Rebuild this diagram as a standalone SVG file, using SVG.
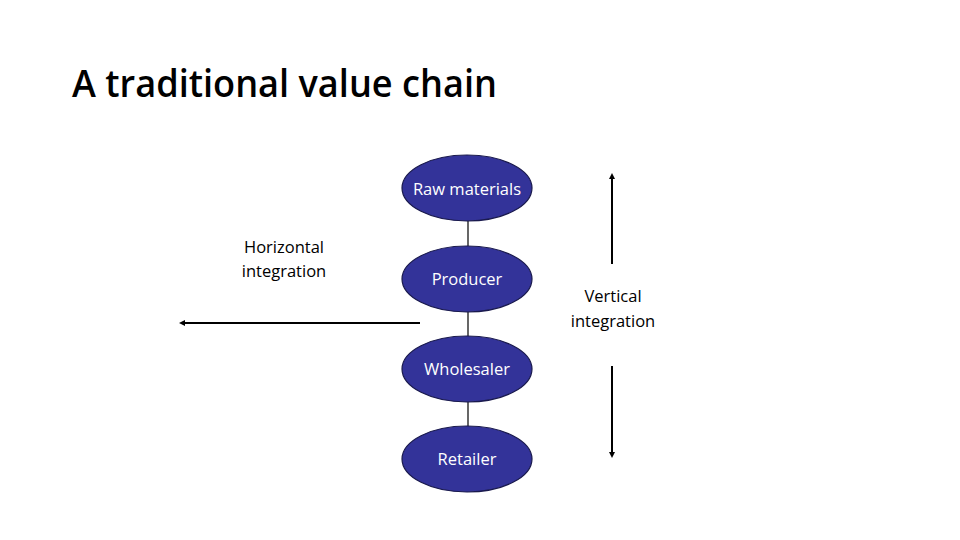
<svg xmlns="http://www.w3.org/2000/svg" width="960" height="540" viewBox="0 0 960 540">
<style>
.node ellipse{fill:#333399;stroke:#1a1a4d;stroke-width:1.2}
.node text{fill:#fff;font-family:"Open Sans","Liberation Sans",sans-serif;font-size:16.5px;text-anchor:middle}
.lbl{fill:#000;font-family:"Open Sans","Liberation Sans",sans-serif;font-size:16.5px;text-anchor:middle}
.conn line{stroke:#000;stroke-width:1.2}
.arr line{stroke:#000;stroke-width:2}
</style>
<defs>
<marker id="ah" viewBox="0 0 6 6" refX="3" refY="3" markerWidth="3" markerHeight="3" orient="auto"><path d="M0,0 L6,3 L0,6 Z" fill="#000"/></marker>
</defs>
<rect width="960" height="540" fill="#fff"/>
<text x="72" y="97" font-family="Open Sans,Liberation Sans,sans-serif" font-size="38" font-weight="600" textLength="425" lengthAdjust="spacingAndGlyphs" fill="#000">A traditional value chain</text>
<g class="conn">
<line x1="468" y1="221" x2="468" y2="246"/>
<line x1="468" y1="312" x2="468" y2="337"/>
<line x1="468" y1="402" x2="468" y2="427"/>
</g>
<g class="arr">
<line x1="420" y1="323" x2="182" y2="323" marker-end="url(#ah)"/>
<line x1="612" y1="264" x2="612" y2="176" marker-end="url(#ah)"/>
<line x1="612" y1="366" x2="612" y2="455" marker-end="url(#ah)"/>
</g>
<g id="raw" class="node"><ellipse cx="467" cy="188" rx="65" ry="33"/><text x="467" y="195">Raw materials</text></g>
<g id="producer" class="node"><ellipse cx="467" cy="279" rx="65" ry="33"/><text x="467" y="285">Producer</text></g>
<g id="wholesaler" class="node"><ellipse cx="467" cy="369" rx="65" ry="33"/><text x="467" y="375">Wholesaler</text></g>
<g id="retailer" class="node"><ellipse cx="467" cy="459" rx="65" ry="33"/><text x="467" y="465">Retailer</text></g>
<g id="horiz"><text class="lbl" x="284" y="253">Horizontal</text><text class="lbl" x="284" y="277">integration</text></g>
<g id="vert"><text class="lbl" x="613" y="302">Vertical</text><text class="lbl" x="613" y="327">integration</text></g>
</svg>
